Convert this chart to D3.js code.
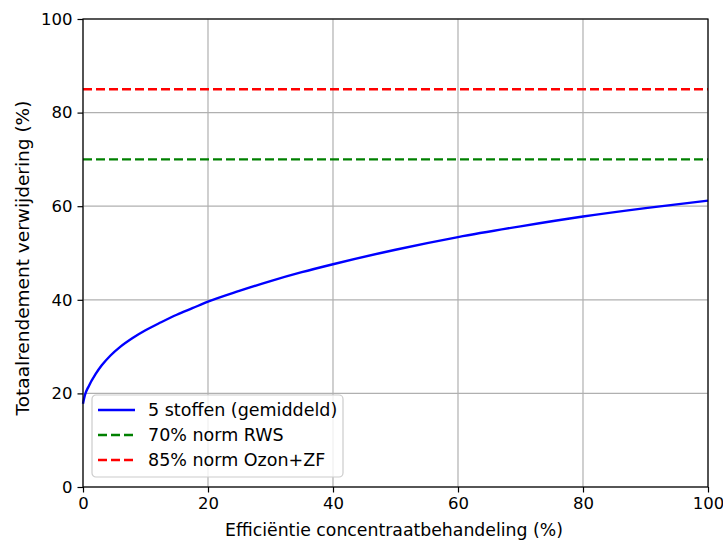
<!DOCTYPE html>
<html>
<head>
<meta charset="utf-8">
<script src="https://cdn.jsdelivr.net/npm/d3@7"></script>
<style>
  body { margin: 0; background: #fff; }
  svg text { font-family: "DejaVu Sans", sans-serif; fill: #000; }
</style>
</head>
<body>
<svg id="chart" width="723" height="541"></svg>
<script>
// Values
const efficiency = [0, 0.3, 0.9, 2, 3, 4.4, 6, 8, 10, 12.5, 15, 17.5, 20, 25, 30, 35, 40, 50, 60, 70, 80, 90, 100];
const totalYield = [17.8, 19.6, 21.5, 24.1, 26.0, 28.1, 30.0, 31.9, 33.5, 35.2, 36.8, 38.2, 39.6, 41.9, 44.0, 45.9, 47.6, 50.7, 53.4, 55.7, 57.8, 59.6, 61.2];
const norms = [70, 85];
const normColors = ['#008000', '#ff0000'];
const legendLabels = ['5 stoffen (gemiddeld)', '70% norm RWS', '85% norm Ozon+ZF'];
const xTicks = [0, 20, 40, 60, 80, 100];
const yTicks = [0, 20, 40, 60, 80, 100];

const margin = { top: 19, right: 15, bottom: 54, left: 83 };
const width = 723 - margin.left - margin.right;
const height = 541 - margin.top - margin.bottom;

const svg = d3.select('#chart');
const g = svg.append('g').attr('transform', `translate(${margin.left},${margin.top})`);

const x = d3.scaleLinear().domain([0, 100]).range([0, width]);
const y = d3.scaleLinear().domain([0, 100]).range([height, 0]);

// Grid
g.append('g')
    .selectAll('line.vgrid')
    .data(xTicks)
    .enter()
    .append('line')
    .attr('x1', d => x(d)).attr('x2', d => x(d))
    .attr('y1', 0).attr('y2', height)
    .attr('stroke', '#b0b0b0').attr('stroke-width', 1.2);
g.append('g')
    .selectAll('line.hgrid')
    .data(yTicks)
    .enter()
    .append('line')
    .attr('y1', d => y(d)).attr('y2', d => y(d))
    .attr('x1', 0).attr('x2', width)
    .attr('stroke', '#b0b0b0').attr('stroke-width', 1.2);

// Norm lines
g.selectAll('line.norm')
    .data(norms)
    .enter()
    .append('line')
    .attr('x1', 0).attr('x2', width)
    .attr('y1', d => y(d)).attr('y2', d => y(d))
    .attr('stroke', (d, i) => normColors[i])
    .attr('stroke-width', 2.4)
    .attr('stroke-dasharray', '9,4');

// Curve
const points = efficiency.map((e, i) => ({ e, v: totalYield[i] }));
const line = d3.line()
    .x(d => x(d.e))
    .y(d => y(d.v))
    .curve(d3.curveMonotoneX);
g.append('path')
    .datum(points)
    .attr('d', line)
    .attr('fill', 'none')
    .attr('stroke', '#0000ff')
    .attr('stroke-width', 2.4);

// Axes
const xAxis = g.append('g')
    .attr('transform', `translate(0,${height})`)
    .call(d3.axisBottom(x).tickValues(xTicks).tickSize(5.5).tickPadding(5));
const yAxis = g.append('g')
    .call(d3.axisLeft(y).tickValues(yTicks).tickSize(5.5).tickPadding(5));
[xAxis, yAxis].forEach(a => {
    a.select('.domain').remove();
    a.selectAll('line').attr('stroke', '#000').attr('stroke-width', 1.2);
    a.selectAll('text').attr('font-size', 16.5).attr('font-family', '"DejaVu Sans", sans-serif');
});

// Frame
g.append('rect')
    .attr('width', width).attr('height', height)
    .attr('fill', 'none').attr('stroke', '#000').attr('stroke-width', 1.2);

// Axis labels
svg.append('text')
    .attr('x', 394)
    .attr('y', 536)
    .attr('text-anchor', 'middle')
    .attr('font-size', 17.3)
    .text('Efficiëntie concentraatbehandeling (%)');
svg.append('text')
    .attr('transform', `translate(29,258) rotate(-90)`)
    .attr('text-anchor', 'middle')
    .attr('font-size', 18.5)
    .text('Totaalrendement verwijdering (%)');

// Legend
const legend = g.append('g').attr('transform', 'translate(9,376)');
legend.append('rect')
    .attr('width', 251).attr('height', 82)
    .attr('rx', 4)
    .attr('fill', 'rgba(255,255,255,0.8)')
    .attr('stroke', '#cccccc').attr('stroke-width', 1.2);
const legendColors = ['#0000ff'].concat(normColors);
legendLabels.forEach((label, i) => {
    const row = legend.append('g').attr('transform', `translate(0,${15 + i * 25})`);
    row.append('line')
        .attr('x1', 6).attr('x2', 43)
        .attr('stroke', legendColors[i])
        .attr('stroke-width', 2.4)
        .attr('stroke-dasharray', i === 0 ? null : '9,4');
    row.append('text')
        .attr('x', 56).attr('y', 6)
        .attr('font-size', 17.5)
        .text(label);
});
</script>
</body>
</html>
